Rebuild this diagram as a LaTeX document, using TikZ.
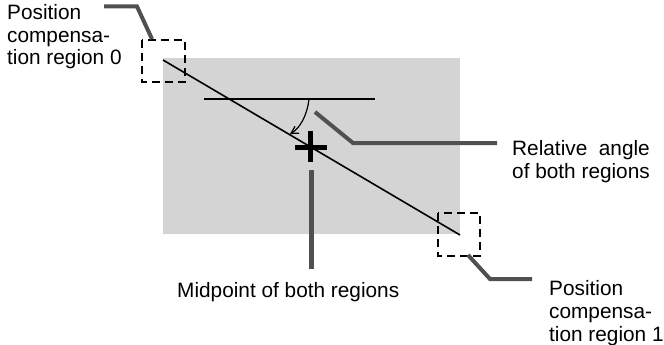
\documentclass[tikz,border=0pt]{standalone}
\usepackage{fontspec}
\setmainfont{Liberation Sans}
\usetikzlibrary{arrows.meta}
\definecolor{areagray}{RGB}{212,212,212}
\definecolor{leadergray}{RGB}{80,80,80}
\begin{document}
\begin{tikzpicture}[x=1pt,y=-1pt,
  lbl/.style={anchor=base west,inner sep=0pt,align=left,font=\fontsize{20.8}{22.8}\selectfont},
  leaderline/.style={draw=leadergray,line width=4pt},
  dashbox/.style={draw=black,line width=1.5pt,dash pattern=on 8pt off 5pt},
  mainline/.style={draw=black,line width=1.6pt}]
\useasboundingbox (0,0) rectangle (664,345);
% shaded area
\fill[fill=areagray] (163,58) rectangle (460,234);
% dashed boxes
\draw[dashbox] (142,40) rectangle (185,82);
\draw[dashbox] (438,213) rectangle (480,256);
% coordinates
\coordinate (p0) at (163,60);
\coordinate (p1) at (460,235);
\coordinate (h0) at (204,99);
\coordinate (h1) at (375,99);
\coordinate (arcS) at (309,99);
\coordinate (arcE) at (290,134);
\coordinate (mid) at (310,147);
% lines
\draw[mainline] (p0) -- (p1);
\draw[line width=1.1pt] (h0) -- (h1);
\draw[line width=1.2pt,-{Straight Barb[length=7pt,width=8pt]}] (arcS) .. controls (307,116) and (300,128) .. (arcE);
% cross
\draw[line width=5pt] (295,147) -- (327,147);
\draw[line width=5pt] (310,131) -- (310,162);
% labels (base = last line baseline)
\node[lbl] (t0) at (7,65) {Position\\compensa-\\tion region 0};
\node[lbl] (tr) at (512,178) {Relative\ \ angle\\of both regions};
\node[lbl] (tm) at (177,297) {Midpoint of both regions};
\node[lbl] (t1) at (549,341) {Position\\compensa-\\tion region 1};
% leaders
\coordinate (l0a) at (104,6.5);
\coordinate (l0b) at (137,6.5);
\coordinate (l0c) at (152,39);
\draw[leaderline] (l0a) -- (l0b) -- (l0c);
\coordinate (lra) at (315,112);
\coordinate (lrb) at (353,143);
\coordinate (lrc) at (497,143);
\draw[leaderline] (lra) -- (lrb) -- (lrc);
\coordinate (lma) at (311,170);
\coordinate (lmb) at (311,269);
\draw[leaderline,line width=5pt] (lma) -- (lmb);
\coordinate (l1a) at (468,255);
\coordinate (l1b) at (490,279);
\coordinate (l1c) at (532,279);
\draw[leaderline] (l1a) -- (l1b) -- (l1c);
\end{tikzpicture}
\end{document}
